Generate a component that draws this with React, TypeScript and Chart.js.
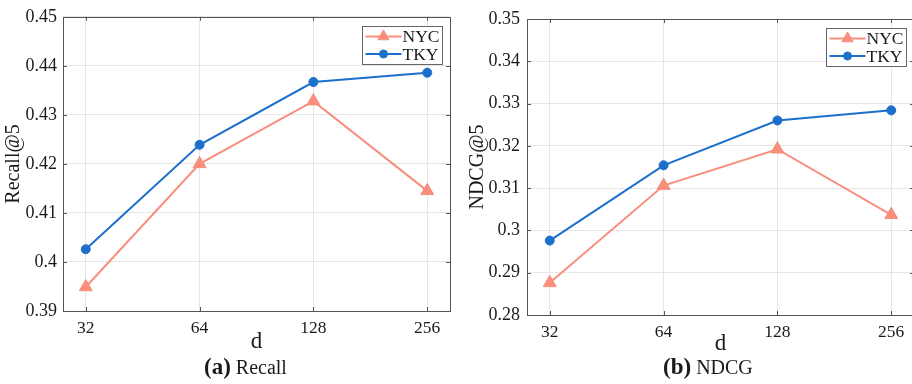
import React, { useEffect, useRef } from "react";
import { Chart, registerables } from "chart.js";

Chart.register(...registerables);

// ---- data ----
const dLabels = ["32", "64", "128", "256"];
const seriesNames = ["NYC", "TKY"];

const recallNYC = [0.3949, 0.42, 0.4328, 0.4145];
const recallTKY = [0.4026, 0.4239, 0.4367, 0.4386];
const ndcgNYC = [0.2876, 0.3106, 0.3192, 0.3037];
const ndcgTKY = [0.2976, 0.3154, 0.326, 0.3284];

const recallTicks = [0.39, 0.4, 0.41, 0.42, 0.43, 0.44, 0.45];
const recallTickLabels = ["0.39", "0.4", "0.41", "0.42", "0.43", "0.44", "0.45"];
const ndcgTicks = [0.28, 0.29, 0.3, 0.31, 0.32, 0.33, 0.34, 0.35];
const ndcgTickLabels = ["0.28", "0.29", "0.3", "0.31", "0.32", "0.33", "0.34", "0.35"];

// ---- styles ----
const NYC_COLOR = "#F88E7B";
const TKY_COLOR = "#1D6FCC";
const AXIS_COLOR = "#555555";
const TEXT_COLOR = "#1a1a1a";
const GRID_COLOR = "#E6E6E6";
const FONT = "'Liberation Serif', 'Times New Roman', serif";

function drawMarker(ctx: CanvasRenderingContext2D, style: string, x: number, y: number, r: number, color: string) {
  ctx.save();
  ctx.fillStyle = color;
  ctx.strokeStyle = color;
  ctx.lineWidth = 1;
  ctx.beginPath();
  if (style === "triangle") {
    ctx.moveTo(x, y - r);
    ctx.lineTo(x + r * 0.866, y + r * 0.5);
    ctx.lineTo(x - r * 0.866, y + r * 0.5);
    ctx.closePath();
  } else {
    ctx.arc(x, y, r, 0, Math.PI * 2);
  }
  ctx.fill();
  ctx.stroke();
  ctx.restore();
}

const boxPlugin = {
  id: "boxPlugin",
  afterDatasetsDraw(chart: any) {
    const { ctx, chartArea } = chart;
    const { left, right, top, bottom } = chartArea;
    const xs = chart.scales.x;
    const ys = chart.scales.y;
    ctx.save();
    ctx.strokeStyle = AXIS_COLOR;
    ctx.lineWidth = 1;
    ctx.strokeRect(Math.round(left) + 0.5, Math.round(top) + 0.5, Math.round(right - left), Math.round(bottom - top));
    const tl = 4;
    ctx.beginPath();
    ys.ticks.forEach((t: any) => {
      const py = Math.round(ys.getPixelForValue(t.value)) + 0.5;
      ctx.moveTo(left, py);
      ctx.lineTo(left + tl, py);
      ctx.moveTo(right, py);
      ctx.lineTo(right - tl, py);
    });
    xs.ticks.forEach((t: any) => {
      const px = Math.round(xs.getPixelForValue(t.value)) + 0.5;
      ctx.moveTo(px, bottom);
      ctx.lineTo(px, bottom - tl);
      ctx.moveTo(px, top);
      ctx.lineTo(px, top + tl);
    });
    ctx.stroke();

    // legend box (top-right inside plot)
    const bw = 80;
    const bh = 38;
    const bx = Math.round(right - 8 - bw) + 0.5;
    const by = Math.round(top + 9) + 0.5;
    ctx.fillStyle = "#ffffff";
    ctx.fillRect(bx, by, bw, bh);
    ctx.strokeStyle = "#666666";
    ctx.strokeRect(bx, by, bw, bh);
    chart.data.datasets.forEach((ds: any, i: number) => {
      const ry = by + 10 + i * 17.5;
      ctx.strokeStyle = ds.borderColor;
      ctx.lineWidth = 2;
      ctx.beginPath();
      ctx.moveTo(bx + 3, ry);
      ctx.lineTo(bx + 39, ry);
      ctx.stroke();
      drawMarker(ctx, ds.pointStyle, bx + 21, ry, ds.pointStyle === "triangle" ? 6.5 : 4, ds.borderColor);
      ctx.fillStyle = TEXT_COLOR;
      ctx.font = `17.5px ${FONT}`;
      ctx.textBaseline = "middle";
      ctx.textAlign = "left";
      ctx.fillText(ds.label, bx + 40, ry + 1);
    });
    ctx.restore();
  },
};

type Props = {
  nyc: number[];
  tky: number[];
  yTicks: number[];
  yLabels: string[];
  yTitle: string;
  width: number;
  height: number;
  padding: { top: number; right: number; bottom: number; left: number };
  yWidth: number;
  xHeight: number;
  yTitlePad: number;
  yTickPad: number;
};

function LineChart(p: Props) {
  const ref = useRef<HTMLCanvasElement | null>(null);
  useEffect(() => {
    if (!ref.current) return;
    const mk = (vals: number[]) => vals.map((v, i) => ({ x: i, y: v }));
    const chart = new Chart(ref.current, {
      type: "line",
      data: {
        datasets: [
          {
            label: seriesNames[0],
            data: mk(p.nyc),
            borderColor: NYC_COLOR,
            backgroundColor: NYC_COLOR,
            borderWidth: 2,
            pointStyle: "triangle",
            pointRadius: 7.5,
            pointBorderWidth: 1,
            tension: 0,
          },
          {
            label: seriesNames[1],
            data: mk(p.tky),
            borderColor: TKY_COLOR,
            backgroundColor: TKY_COLOR,
            borderWidth: 2,
            pointStyle: "circle",
            pointRadius: 4.5,
            pointBorderWidth: 1,
            tension: 0,
          },
        ],
      },
      options: {
        responsive: false,
        animation: false,
        layout: { padding: p.padding, autoPadding: false },
        plugins: { legend: { display: false }, tooltip: { enabled: false }, title: { display: false } },
        scales: {
          x: {
            type: "linear",
            min: -0.2,
            max: 3.2,
            bounds: "data",
            afterBuildTicks: (s: any) => {
              s.ticks = dLabels.map((_, i) => ({ value: i }));
            },
            afterFit: (s: any) => {
              s.height = p.xHeight;
            },
            grid: { color: GRID_COLOR, drawTicks: false, lineWidth: 1 },
            border: { display: false },
            ticks: {
              autoSkip: false,
              maxRotation: 0,
              padding: 7,
              color: TEXT_COLOR,
              font: { family: FONT, size: 17.5 },
              callback: (_v: any, i: number) => dLabels[i],
            },
            title: { display: true, text: "d", color: TEXT_COLOR, font: { family: FONT, size: 23 }, padding: 0 },
          },
          y: {
            type: "linear",
            min: p.yTicks[0],
            max: p.yTicks[p.yTicks.length - 1],
            bounds: "data",
            afterBuildTicks: (s: any) => {
              s.ticks = p.yTicks.map((v) => ({ value: v }));
            },
            afterFit: (s: any) => {
              s.width = p.yWidth;
            },
            grid: { color: GRID_COLOR, drawTicks: false, lineWidth: 1 },
            border: { display: false },
            ticks: {
              autoSkip: false,
              padding: p.yTickPad,
              color: TEXT_COLOR,
              font: { family: FONT, size: 18 },
              callback: (_v: any, i: number) => p.yLabels[i],
            },
            title: {
              display: true,
              text: p.yTitle,
              color: TEXT_COLOR,
              font: { family: FONT, size: 20 },
              padding: { top: p.yTitlePad, bottom: 0 },
            },
          },
        },
      } as any,
      plugins: [boxPlugin],
    });
    return () => chart.destroy();
  }, []);
  return <canvas ref={ref} width={p.width} height={p.height} style={{ display: "block", width: p.width, height: p.height }} />;
}

function Caption({ left, tag, text }: { left: number; tag: string; text: string }) {
  return (
    <div
      style={{
        position: "absolute",
        left,
        top: 356,
        lineHeight: "22px",
        fontFamily: FONT,
        color: TEXT_COLOR,
        whiteSpace: "nowrap",
      }}
    >
      <b style={{ fontSize: 23 }}>{tag}</b>
      <span style={{ fontSize: 20 }}> {text}</span>
    </div>
  );
}

export default function App() {
  return (
    <div
      style={{
        position: "fixed",
        left: 0,
        top: 0,
        width: 912,
        height: 384,
        overflow: "hidden",
        background: "#ffffff",
      }}
    >
      <div style={{ position: "absolute", left: 0, top: 0 }}>
        <LineChart
          nyc={recallNYC}
          tky={recallTKY}
          yTicks={recallTicks}
          yLabels={recallTickLabels}
          yTitle="Recall@5"
          width={456}
          height={384}
          padding={{ top: 16, right: 6, bottom: 28, left: 0 }}
          yWidth={63}
          xHeight={45}
          yTitlePad={2}
          yTickPad={6}
        />
      </div>
      <div style={{ position: "absolute", left: 456, top: 0 }}>
        <LineChart
          nyc={ndcgNYC}
          tky={ndcgTKY}
          yTicks={ndcgTicks}
          yLabels={ndcgTickLabels}
          yTitle="NDCG@5"
          width={460}
          height={384}
          padding={{ top: 19, right: 2, bottom: 26, left: 0 }}
          yWidth={71}
          xHeight={43}
          yTitlePad={10}
          yTickPad={7}
        />
      </div>
      <Caption left={204} tag="(a)" text="Recall" />
      <Caption left={663} tag="(b)" text="NDCG" />
    </div>
  );
}
